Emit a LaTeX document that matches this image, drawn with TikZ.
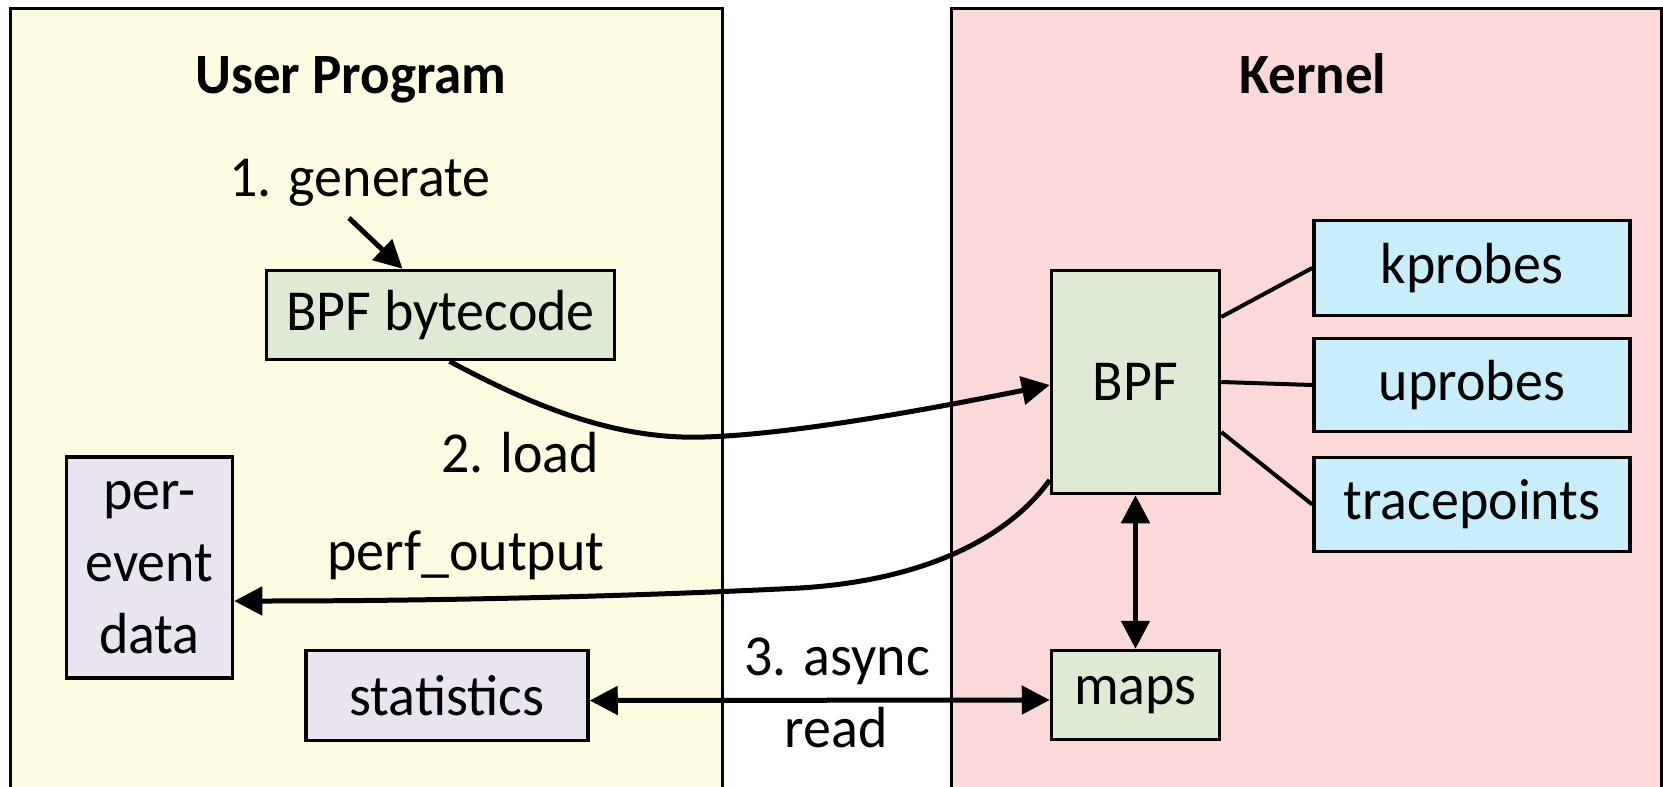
\documentclass[tikz,border=0pt]{standalone}
\usepackage{fontspec}
\setmainfont{Carlito}[FakeStretch=0.965]
\usetikzlibrary{arrows.meta,calc}
\definecolor{userbg}{RGB}{253,252,224}
\definecolor{kernbg}{RGB}{252,217,217}
\definecolor{greenbox}{RGB}{223,234,213}
\definecolor{bluebox}{RGB}{200,238,252}
\definecolor{lavbox}{RGB}{233,228,240}
\tikzset{
  region/.style={draw=black, line width=3pt},
  box/.style={draw=black, line width=3.5pt, inner sep=0pt, align=center,
    font=\fontsize{58}{72}\selectfont},
  gbox/.style={box, fill=greenbox},
  bbox/.style={box, fill=bluebox},
  lbox/.style={box, fill=lavbox},
  lbl/.style={inner sep=0pt, anchor=base, font=\fontsize{58}{66}\selectfont},
  ttl/.style={inner sep=0pt, anchor=base, font=\fontsize{57}{66}\selectfont\bfseries},
  conn/.style={line width=5pt, -{Triangle[length=28pt,width=28pt]}},
  dconn/.style={line width=5pt, {Triangle[length=28pt,width=28pt]}-{Triangle[length=28pt,width=28pt]}},
  link/.style={line width=4pt},
}
\begin{document}
\begin{tikzpicture}[x=1pt,y=-1pt]
\useasboundingbox (0,0) rectangle (1663,787);
% regions
\draw[region, fill=userbg] (10,8) rectangle (722,820);
\draw[region, fill=kernbg] (951,8) rectangle (1661,820);
% titles
\node[ttl] (tuser) at (351,93) {User Program};
\node[ttl] (tkern) at (1313,93) {Kernel};
% nodes
\node[gbox, minimum width=348pt, minimum height=89pt] (bc) at (440.5,315) {BPF bytecode};
\node[lbox, minimum width=166pt, minimum height=221pt] (pe) at (149.5,567.5) {per-\\event\\data};
\node[lbox, minimum width=282pt, minimum height=90pt] (stats) at (447,695.5) {statistics};
\node[gbox, minimum width=168pt, minimum height=223pt] (bpf) at (1135.5,382) {BPF};
\node[gbox, minimum width=168pt, minimum height=89pt] (maps) at (1135.5,695) {maps};
\node[bbox, minimum width=316pt, minimum height=95pt] (kp) at (1472,268) {kprobes};
\node[bbox, minimum width=316pt, minimum height=93pt] (up) at (1472,385) {uprobes};
\node[bbox, minimum width=316pt, minimum height=94pt] (tp) at (1472,504.5) {tracepoints};
% labels
\node[lbl] (lgen) at (360,196) {1. generate};
\node[lbl] (lload) at (520,472) {2. load};
\node[lbl] (lperf) at (466,570) {perf\_output};
\node[lbl] (lasync) at (837,675) {3. async};
\node[lbl] (lread) at (836,747) {read};
% connectors
\coordinate (gstart) at (349,218);
\draw[conn] (gstart) -- ([xshift=-38pt]bc.north);
\draw[conn] ([xshift=9pt]bc.south) .. controls (540,410) and (620,440) .. (705,437)
  .. controls (800,434) and (950,405) .. ([yshift=-3pt]bpf.west);
\draw[conn] ([yshift=-98pt]bpf.west) .. controls (1010,535) and (930,580) .. (800,588)
  .. controls (600,598) and (400,601) .. ([yshift=-33.5pt]pe.east);
\draw[dconn] (bpf.south) -- (maps.north);
\draw[dconn] ([yshift=-5pt]stats.east) -- ([yshift=-5pt]maps.west);
\draw[link] ([yshift=65pt]bpf.east) -- (kp.west);
\draw[link] (bpf.east) -- (up.west);
\draw[link] ([yshift=-50pt]bpf.east) -- (tp.west);
\end{tikzpicture}
\end{document}
